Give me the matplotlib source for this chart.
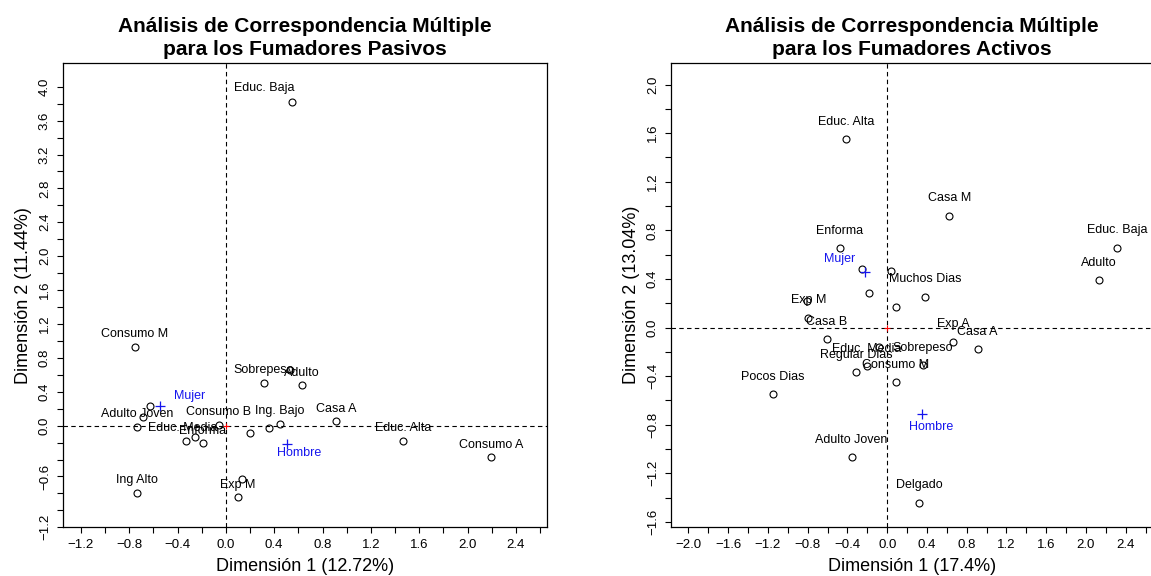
import matplotlib
matplotlib.use('Agg')
import matplotlib.pyplot as plt
from matplotlib.ticker import FixedLocator, FixedFormatter
import numpy as np

plt.rcParams['font.family'] = ['Liberation Sans', 'DejaVu Sans']

# ---------------- Data: passive smokers (left) ----------------
pas_names = ['Consumo M', '', '', 'Adulto Joven', 'Educ. Media', '', 'Enforma',
             'Consumo B', '', '', 'Ing. Bajo', 'Casa A', 'Sobrepeso', '', 'Adulto',
             'Ing Alto', '', 'Exp M', 'Educ. Alta', 'Consumo A', 'Educ. Baja']
pas_x = [-0.755, -0.628, -0.688, -0.733, -0.331, -0.256, -0.193,
         -0.058, 0.198, 0.361, 0.446, 0.912, 0.317, 0.529, 0.631,
         -0.733, 0.130, 0.099, 1.465, 2.198, 0.55]
pas_y = [0.929, 0.232, 0.106, -0.015, -0.177, -0.137, -0.208,
         0.008, -0.083, -0.024, 0.024, 0.052, 0.507, 0.657, 0.477,
         -0.791, -0.629, -0.845, -0.181, -0.373, 3.82]
pas_sup_names = ['Mujer', 'Hombre']
pas_sup_x = [-0.545, 0.51]
pas_sup_y = [0.232, -0.216]
pas_title = 'Análisis de Correspondencia Múltiple\npara los Fumadores Pasivos'
pas_xlab = 'Dimensión 1 (12.72%)'
pas_ylab = 'Dimensión 2 (11.44%)'
pas_xticklabels = ['−1.2', '−0.8', '−0.4', '0.0', '0.4', '0.8', '1.2', '1.6', '2.0', '2.4']
pas_yticklabels = ['−1.2', '−0.6', '0.0', '0.4', '0.8', '1.2', '1.6', '2.0',
                   '2.4', '2.8', '3.2', '3.6', '4.0']

# ---------------- Data: active smokers (right) ----------------
act_names = ['Educ. Alta', 'Casa M', 'Educ. Baja', 'Adulto', 'Enforma', 'Muchos Dias',
             'Exp M', 'Casa B', 'Exp A', 'Casa A', 'Sobrepeso', 'Educ. Media',
             'Regular Dias', 'Consumo M', 'Pocos Dias', 'Adulto Joven', 'Delgado',
             '', '', '', '', '', '']
act_x = [-0.415, 0.624, 2.314, 2.127, -0.476, 0.379,
         -0.795, -0.610, 0.664, 0.909, 0.356, -0.207,
         -0.315, 0.088, -1.153, -0.358, 0.322,
         0.034, -0.181, 0.088, -0.811, -0.087, -0.258]
act_y = [1.551, 0.918, 0.657, 0.391, 0.654, 0.253,
         0.081, -0.097, -0.117, -0.179, -0.309, -0.317,
         -0.369, -0.451, -0.550, -1.068, -1.442,
         0.465, 0.286, 0.166, 0.221, -0.158, 0.479]
act_sup_names = ['Mujer', 'Hombre']
act_sup_x = [-0.224, 0.352]
act_sup_y = [0.459, -0.714]
act_title = 'Análisis de Correspondencia Múltiple\npara los Fumadores Activos'
act_xlab = 'Dimensión 1 (17.4%)'
act_ylab = 'Dimensión 2 (13.04%)'
act_xticklabels = ['−2.0', '−1.6', '−1.2', '−0.8', '−0.4', '0.0', '0.4', '0.8',
                   '1.2', '1.6', '2.0', '2.4']
act_yticklabels = ['−1.6', '−1.2', '−0.8', '−0.4', '0.0', '0.4', '0.8', '1.2', '1.6', '2.0']

# ---------------- Styling ----------------
W, H = 1151, 576
fig = plt.figure(figsize=(W / 100, H / 100), dpi=100)

def fr(x0, x1, y0, y1):
    return [x0 / W, 1 - y1 / H, (x1 - x0) / W, (y1 - y0) / H]

ax1 = fig.add_axes(fr(62.7, 546.7, 63, 527.3))
ax2 = fig.add_axes(fr(670.7, 1152.5, 63, 527.3))

def lab_ticks(labels):
    return [float(s.replace('−', '-')) for s in labels]

def setup(ax, xlim, ylim, xt, yt, xtl, ytl, title, xlab, ylab):
    ax.set_xlim(*xlim)
    ax.set_ylim(*ylim)
    xvals = lab_ticks(xtl)
    yvals = lab_ticks(ytl)
    xt_str = []
    for t in xt:
        m = [s for v, s in zip(xvals, xtl) if abs(v - t) < 1e-6]
        xt_str.append(m[0] if m else '')
    yt_str = []
    for t in yt:
        m = [s for v, s in zip(yvals, ytl) if abs(v - t) < 1e-6]
        yt_str.append(m[0] if m else '')
    ax.xaxis.set_major_locator(FixedLocator(xt))
    ax.xaxis.set_major_formatter(FixedFormatter(xt_str))
    ax.yaxis.set_major_locator(FixedLocator(yt))
    ax.yaxis.set_major_formatter(FixedFormatter(yt_str))
    ax.tick_params(axis='both', direction='out', length=4.5, width=0.8,
                   labelsize=9.5, pad=4, colors='black')
    for lab in ax.get_yticklabels():
        lab.set_rotation(90)
        lab.set_va('center')
    for s in ax.spines.values():
        s.set_linewidth(0.9)
    ax.axhline(0, color='black', lw=0.8, ls=(0, (4, 3)), zorder=1)
    ax.axvline(0, color='black', lw=0.8, ls=(0, (4, 3)), zorder=1)
    ax.plot([0], [0], marker='+', color='red', ms=5, mew=0.8, zorder=2)
    ax.set_xlabel(xlab, fontsize=13, labelpad=5)
    ax.set_ylabel(ylab, fontsize=13, labelpad=5)
    ax.annotate(title, xy=(0.5, 1.0), xycoords='axes fraction', xytext=(0, 4),
                textcoords='offset pixels', ha='center', va='bottom',
                fontsize=15, fontweight='bold', linespacing=1.3)

def draw(ax, names, xs, ys, snames, sx, sy, dy, offsets, sup_offsets):
    ax.plot(xs, ys, ls='none', marker='o', mfc='none', mec='black', ms=5, mew=0.8, zorder=3)
    for n, x, y in zip(names, xs, ys):
        if not n:
            continue
        ox, oy = offsets.get(n, (0, dy))
        ax.annotate(n, xy=(x, y), xytext=(ox, oy), textcoords='offset pixels',
                    ha='center', va='center', fontsize=9, color='black', zorder=4)
    ax.plot(sx, sy, ls='none', marker='+', color='#1515ee', ms=7.5, mew=0.9, zorder=3)
    for n, x, y in zip(snames, sx, sy):
        ox, oy = sup_offsets[n]
        ax.annotate(n, xy=(x, y), xytext=(ox, oy), textcoords='offset pixels',
                    ha='center', va='center', fontsize=9, color='#1515ee', zorder=4)

setup(ax1, (-1.35, 2.655), (-1.2, 4.28),
      np.round(np.arange(-1.2, 2.61, 0.2), 1), np.round(np.arange(-1.2, 4.01, 0.2), 1),
      pas_xticklabels, pas_yticklabels, pas_title, pas_xlab, pas_ylab)
draw(ax1, pas_names, pas_x, pas_y, pas_sup_names, pas_sup_x, pas_sup_y, 12.5,
     {'Educ. Media': (-3, 13), 'Educ. Baja': (-28, 14)},
     {'Mujer': (30, 10), 'Hombre': (12, -9)})

setup(ax2, (-2.179, 2.67), (-1.644, 2.177),
      np.round(np.arange(-2.0, 2.61, 0.2), 1), np.round(np.arange(-1.6, 2.01, 0.2), 1),
      act_xticklabels, act_yticklabels, act_title, act_xlab, act_ylab)
draw(ax2, act_names, act_x, act_y, act_sup_names, act_sup_x, act_sup_y, 17.5,
     {}, {'Mujer': (-25, 13), 'Hombre': (9, -12.5)})

fig.savefig('out.png', dpi=100)
